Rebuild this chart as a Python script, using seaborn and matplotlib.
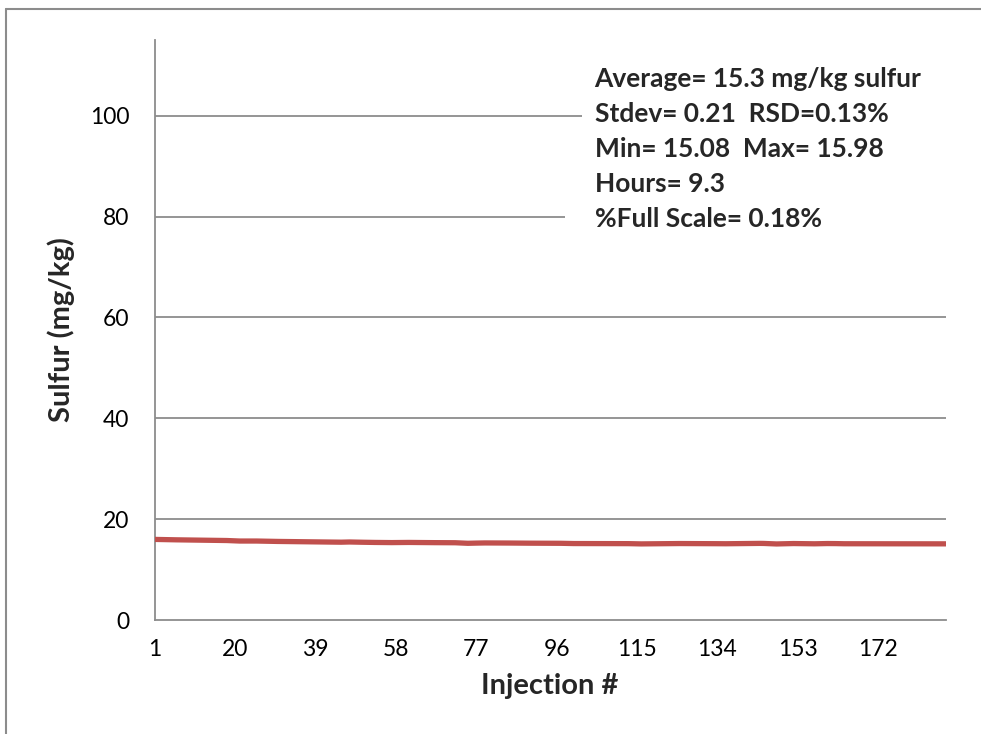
import numpy as np
import pandas as pd
import matplotlib
matplotlib.use("Agg")
import matplotlib.pyplot as plt
import seaborn as sns
from matplotlib.patches import Rectangle
from matplotlib.lines import Line2D

# ---------- data ----------
sulfur = [
    15.98, 15.96, 15.95, 15.93, 15.92, 15.90, 15.89, 15.88, 15.86, 15.85,
    15.84, 15.83, 15.82, 15.81, 15.80, 15.80, 15.79, 15.76, 15.72, 15.68,
    15.66, 15.65, 15.66, 15.67, 15.66, 15.64, 15.62, 15.60, 15.59, 15.58,
    15.57, 15.56, 15.56, 15.55, 15.54, 15.53, 15.52, 15.52, 15.51, 15.50,
    15.49, 15.47, 15.44, 15.42, 15.43, 15.45, 15.47, 15.46, 15.44, 15.42,
    15.40, 15.39, 15.38, 15.37, 15.36, 15.36, 15.35, 15.36, 15.37, 15.38,
    15.38, 15.37, 15.36, 15.36, 15.35, 15.35, 15.34, 15.34, 15.35, 15.35,
    15.34, 15.32, 15.28, 15.24, 15.21, 15.22, 15.25, 15.27, 15.28, 15.28,
    15.27, 15.27, 15.26, 15.26, 15.26, 15.25, 15.25, 15.24, 15.24, 15.23,
    15.23, 15.22, 15.22, 15.21, 15.22, 15.23, 15.21, 15.19, 15.17, 15.16,
    15.16, 15.17, 15.18, 15.17, 15.16, 15.15, 15.14, 15.14, 15.15, 15.16,
    15.16, 15.15, 15.14, 15.12, 15.10, 15.09, 15.10, 15.12, 15.14, 15.15,
    15.15, 15.15, 15.16, 15.16, 15.16, 15.15, 15.15, 15.15, 15.15, 15.14,
    15.14, 15.14, 15.13, 15.13, 15.12, 15.12, 15.13, 15.14, 15.15, 15.16,
    15.17, 15.18, 15.19, 15.19, 15.18, 15.14, 15.10, 15.08, 15.10, 15.13,
    15.15, 15.16, 15.15, 15.13, 15.11, 15.10, 15.11, 15.13, 15.15, 15.16,
    15.16, 15.15, 15.13, 15.12, 15.12, 15.13, 15.14, 15.13, 15.12, 15.12,
    15.12, 15.12, 15.13, 15.13, 15.13, 15.12, 15.12, 15.11, 15.11, 15.11,
    15.11, 15.12, 15.12, 15.11, 15.10, 15.10, 15.10, 15.10,
]
injections = list(range(1, len(sulfur) + 1))
x_ticks = [1, 20, 39, 58, 77, 96, 115, 134, 153, 172]
y_ticks = [0, 20, 40, 60, 80, 100]
stats_lines = [
    "Average= 15.3 mg/kg sulfur",
    "Stdev= 0.21  RSD=0.13%",
    "Min= 15.08  Max= 15.98",
    "Hours= 9.3",
    "%Full Scale= 0.18%",
]

df = pd.DataFrame({"Injection": injections, "Sulfur": sulfur})

sns.set_theme(style="white")
plt.rcParams['font.family'] = ['Lato', 'DejaVu Sans']

fig = plt.figure(figsize=(9.81, 7.34), dpi=100)
ax = fig.add_axes([0.158, 0.1553, 0.806, 0.7902])

grid_col = '#8c8c8c'
for y in y_ticks[1:]:
    ax.axhline(y, color=grid_col, lw=1.3, zorder=1)

sns.lineplot(data=df, x="Injection", y="Sulfur", ax=ax, color='#C0504D',
             linewidth=3.8, solid_capstyle='round', zorder=3)

ax.set_xlim(1, len(sulfur))
ax.set_ylim(0, 115)
ax.set_xticks(x_ticks)
ax.set_yticks(y_ticks)
ax.tick_params(axis='both', direction='out', width=1.3, color=grid_col,
               labelsize=16.5, colors='black')
ax.tick_params(axis='x', length=4.5, pad=9)
ax.tick_params(axis='y', length=6.5, pad=12)
for s in ['top', 'right']:
    ax.spines[s].set_visible(False)
for s in ['left', 'bottom']:
    ax.spines[s].set_color(grid_col)
    ax.spines[s].set_linewidth(1.3)

ax.set_xlabel("Injection #", fontsize=21, fontweight='bold')
ax.set_ylabel("Sulfur (mg/kg)", fontsize=21, fontweight='bold')
ax.xaxis.set_label_coords(0.4995, -0.114)
ax.yaxis.set_label_coords(-0.118, 0.5)
ax.xaxis.label.set_va('center')
ax.yaxis.label.set_va('center')

# white text box covering the gridlines
ax.add_patch(Rectangle((0.54, 0.80), 0.46, 0.18, transform=ax.transAxes,
                       facecolor='white', edgecolor='none', zorder=2))
ax.add_patch(Rectangle((0.519, 0.60), 0.481, 0.21, transform=ax.transAxes,
                       facecolor='white', edgecolor='none', zorder=2))
ax.text(0.556, 0.954, "\n".join(stats_lines), transform=ax.transAxes,
        fontsize=19, fontweight='bold', va='top', ha='left',
        linespacing=1.56, zorder=4)

# outer chart frame (top and left edges visible)
fig.add_artist(Line2D([6/981, 1], [1 - 9/734, 1 - 9/734], color='#8c8c8c', lw=1.5))
fig.add_artist(Line2D([6/981, 6/981], [0, 1 - 9/734], color='#8c8c8c', lw=1.5))

fig.savefig("out.png", dpi=100)
